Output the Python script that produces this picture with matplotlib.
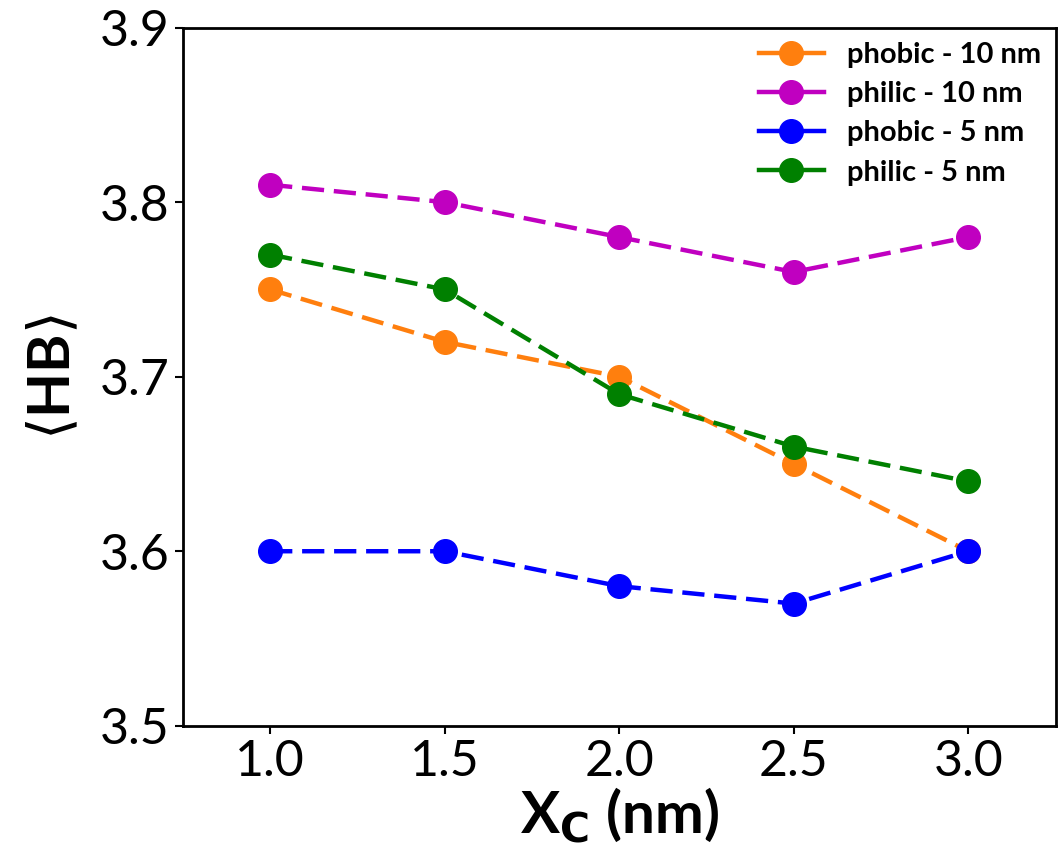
import matplotlib
matplotlib.use("Agg")
import matplotlib.pyplot as plt

x = [1.0, 1.5, 2.0, 2.5, 3.0]
phobic_10 = [3.75, 3.72, 3.70, 3.65, 3.60]
philic_10 = [3.81, 3.80, 3.78, 3.76, 3.78]
phobic_5 = [3.60, 3.60, 3.58, 3.57, 3.60]
philic_5 = [3.77, 3.75, 3.69, 3.66, 3.64]

labels = ["phobic - 10 nm", "philic - 10 nm", "phobic - 5 nm", "philic - 5 nm"]
colors = ["#ff7f0e", "#c000c0", "#0000ff", "#008000"]

plt.rcParams['font.family'] = ['Lato', 'DejaVu Sans']
plt.rcParams['mathtext.fontset'] = 'dejavusans'

fig = plt.figure(figsize=(10.63, 8.64), dpi=100)
ax = fig.add_axes([0.172, 0.160, 0.821, 0.808])

for ys, lab, c in zip([phobic_10, philic_10, phobic_5, philic_5], labels, colors):
    ax.plot(x, ys, '--o', color=c, lw=3.2, ms=17, label=lab, dashes=(5, 2.2))

ax.set_xlim(0.75, 3.25)
ax.set_ylim(3.5, 3.9)
ax.set_xticks([1.0, 1.5, 2.0, 2.5, 3.0])
ax.set_yticks([3.5, 3.6, 3.7, 3.8, 3.9])
ax.set_xticklabels(["1.0", "1.5", "2.0", "2.5", "3.0"])
ax.set_yticklabels(["3.5", "3.6", "3.7", "3.8", "3.9"])
ax.tick_params(labelsize=36, direction='out', length=6, width=1.5)
for s in ax.spines.values():
    s.set_linewidth(2)

ax.set_xlabel(r"X$_\mathbf{C}$ (nm)", fontsize=42, fontweight='bold', labelpad=0)
ax.set_ylabel(r"$\langle$HB$\rangle$", fontsize=42, fontweight='bold', labelpad=14)

leg = ax.legend(loc='upper right', frameon=False, prop={'weight': 'bold', 'size': 21},
                handlelength=2.2, borderaxespad=0.1, labelspacing=0.45, handletextpad=0.8)
# legend handles look solid in the original
for ln in leg.get_lines():
    ln.set_linestyle('-')

fig.savefig("out.png", dpi=100)
